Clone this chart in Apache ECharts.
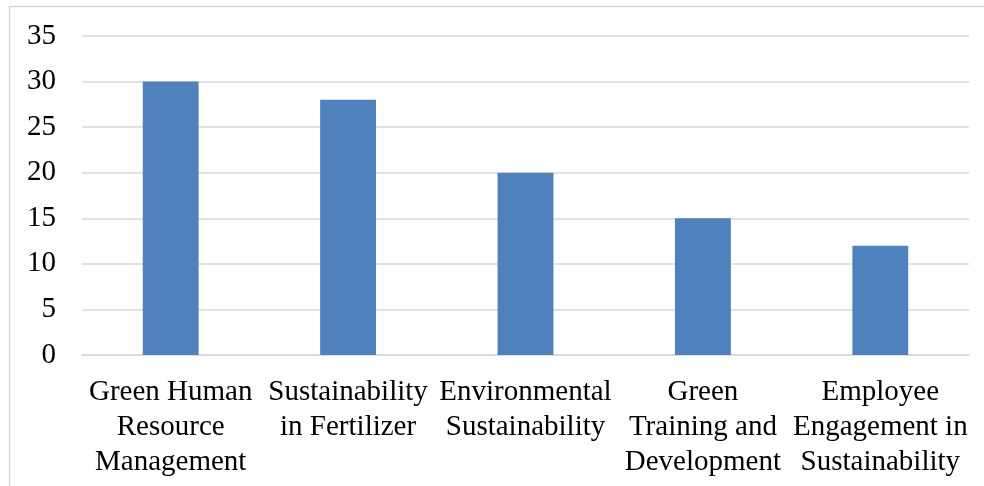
<!DOCTYPE html>
<html>
<head>
<meta charset="utf-8">
<style>
  html, body { margin: 0; padding: 0; background: #fff; }
  #chart { width: 984px; height: 486px; }
</style>
<script src="https://cdn.jsdelivr.net/npm/echarts@6/dist/echarts.min.js"></script>
</head>
<body>
<div id="chart"></div>
<script>
// Categories and counts
const categories = [
  'Green Human\nResource\nManagement',
  'Sustainability\nin Fertilizer',
  'Environmental\nSustainability',
  'Green\nTraining and\nDevelopment',
  'Employee\nEngagement in\nSustainability'
];
const values = [30, 28, 20, 15, 12];
const yTicks = { min: 0, max: 35, interval: 5 };

const chart = echarts.init(document.getElementById('chart'), null, { renderer: 'canvas' });
const font = '"Liberation Serif", "Times New Roman", serif';

chart.setOption({
  animation: false,
  backgroundColor: '#fff',
  graphic: [{
    type: 'rect',
    shape: { x: 9.5, y: 6.5, width: 1100, height: 600 },
    style: { fill: 'none', stroke: '#D9D9D9', lineWidth: 1.5 },
    silent: true
  }],
  grid: { left: 82, right: 15, top: 36, bottom: 131 },
  xAxis: {
    type: 'category',
    data: categories,
    axisLine: { show: true, lineStyle: { color: '#D9D9D9', width: 1.5 } },
    axisTick: { show: false },
    axisLabel: {
      interval: 0,
      color: '#000',
      fontFamily: font,
      fontSize: 29,
      lineHeight: 35,
      margin: 20
    }
  },
  yAxis: {
    type: 'value',
    min: yTicks.min,
    max: yTicks.max,
    interval: yTicks.interval,
    axisLine: { show: false },
    axisTick: { show: false },
    splitLine: { lineStyle: { color: '#D9D9D9', width: 1.5 } },
    axisLabel: {
      color: '#000',
      fontFamily: font,
      fontSize: 29,
      margin: 26
    }
  },
  series: [{
    type: 'bar',
    data: values,
    barWidth: '31.5%',
    itemStyle: { color: '#4F81BD' }
  }]
});
</script>
</body>
</html>
